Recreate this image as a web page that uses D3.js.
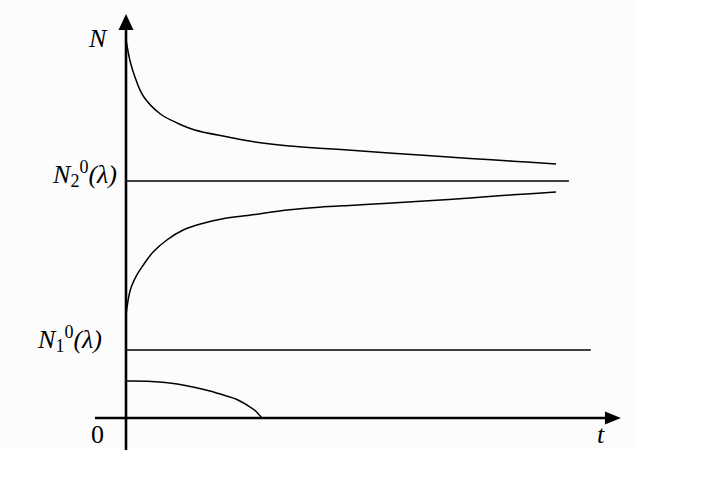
<!DOCTYPE html>
<html>
<head>
<meta charset="utf-8">
<script src="https://cdn.jsdelivr.net/npm/d3@7"></script>
<style>
  html, body { margin: 0; padding: 0; background: #ffffff; }
  svg { display: block; }
  text { font-family: "Liberation Serif", "Times New Roman", serif; fill: #000; }
</style>
</head>
<body>
<script>
// ---- data (t, N) ----
const upperT = [0, 1, 2, 4, 8, 12, 16, 24, 30, 38, 46, 54, 62, 70, 80, 90, 100];
const upperN = [94.5, 89, 85.5, 80.5, 76, 73.7, 72, 70.2, 69, 68, 67.4, 66.8, 66.2, 65.6, 64.9, 64.2, 63.5];

const lowerT = [0, 1, 2.5, 4, 6.3, 9.5, 13.3, 18, 22, 29.5, 37.4, 45, 53, 61, 68.4, 80, 90, 100];
const lowerN = [25.7, 32, 35.7, 38.2, 41.5, 44.5, 47, 48.7, 49.7, 50.8, 52, 52.7, 53.2, 53.7, 54.2, 55, 55.8, 56.5];

const bottomT = [0, 4.9, 9.1, 11.9, 16.1, 19.5, 23.0, 25.8, 28.1, 30.0, 31.6];
const bottomN = [9.25, 9.2, 8.88, 8.5, 7.63, 6.75, 5.63, 4.63, 3.25, 1.88, 0];

const equilibria = [
  { name: "N2", value: 59.25, tEnd: 103 },
  { name: "N1", value: 17, tEnd: 108.1 }
];

const axisT = [-7.2, 115.1];   // horizontal axis extent (t units)
const axisN = [-8, 101];       // vertical axis extent (N units)

// ---- scales ----
const W = 722, H = 483;
const x = d3.scaleLinear().domain([0, 100]).range([126, 556]);
const y = d3.scaleLinear().domain([0, 100]).range([418, 18]);

const svg = d3.select("body").append("svg").attr("width", W).attr("height", H);
svg.append("rect").attr("x", 0).attr("y", 0).attr("width", 637).attr("height", 448).attr("fill", "#fcfcfc");

const line = d3.line().x(d => x(d[0])).y(d => y(d[1])).curve(d3.curveCatmullRom.alpha(0.5));
const zip = (a, b) => a.map((v, i) => [v, b[i]]);

// equilibrium lines
svg.selectAll("line.eq").data(equilibria).enter().append("line")
  .attr("class", "eq")
  .attr("x1", x(0)).attr("x2", d => x(d.tEnd))
  .attr("y1", d => y(d.value)).attr("y2", d => y(d.value))
  .attr("stroke", "#000").attr("stroke-width", 1.6);

// curves
[[upperT, upperN], [lowerT, lowerN], [bottomT, bottomN]].forEach(([t, n]) => {
  svg.append("path").datum(zip(t, n)).attr("d", line)
    .attr("fill", "none").attr("stroke", "#000").attr("stroke-width", 1.5);
});

// axes
const x0 = x(0), y0 = y(0);
svg.append("line").attr("x1", x(axisT[0])).attr("x2", x(axisT[1]) - 8)
  .attr("y1", y0).attr("y2", y0).attr("stroke", "#000").attr("stroke-width", 2.6);
svg.append("line").attr("x1", x0).attr("x2", x0)
  .attr("y1", y(axisN[0])).attr("y2", y(axisN[1]) + 8).attr("stroke", "#000").attr("stroke-width", 2.6);

// arrowheads
const tx = x(axisT[1]);
svg.append("path").attr("d", `M${tx},${y0} L${tx - 16},${y0 - 6.5} L${tx - 16},${y0 + 6.5} Z`).attr("fill", "#000");
const ty = y(axisN[1]);
svg.append("path").attr("d", `M${x0},${ty} L${x0 - 7.5},${ty + 16} L${x0 + 7.5},${ty + 16} Z`).attr("fill", "#000");

// labels
const fs = 26;
svg.append("text").attr("x", 89).attr("y", 47).attr("font-size", fs).attr("font-style", "italic").text("N");
svg.append("text").attr("x", 91).attr("y", 443).attr("font-size", fs).text("0");
svg.append("text").attr("x", 597).attr("y", 443).attr("font-size", fs).attr("font-style", "italic").text("t");

function eqLabel(xEnd, base, sub) {
  const t = svg.append("text").attr("x", xEnd).attr("y", base).attr("font-size", fs).attr("text-anchor", "end");
  t.append("tspan").attr("font-style", "italic").text("N");
  t.append("tspan").attr("font-size", 18).attr("dy", 4).text(sub);
  t.append("tspan").attr("font-size", 18).attr("dy", -14).text("0");
  t.append("tspan").attr("font-style", "italic").attr("dy", 10).text("(λ)");
}
eqLabel(117, 183, "2");
eqLabel(102, 348, "1");
</script>
</body>
</html>
